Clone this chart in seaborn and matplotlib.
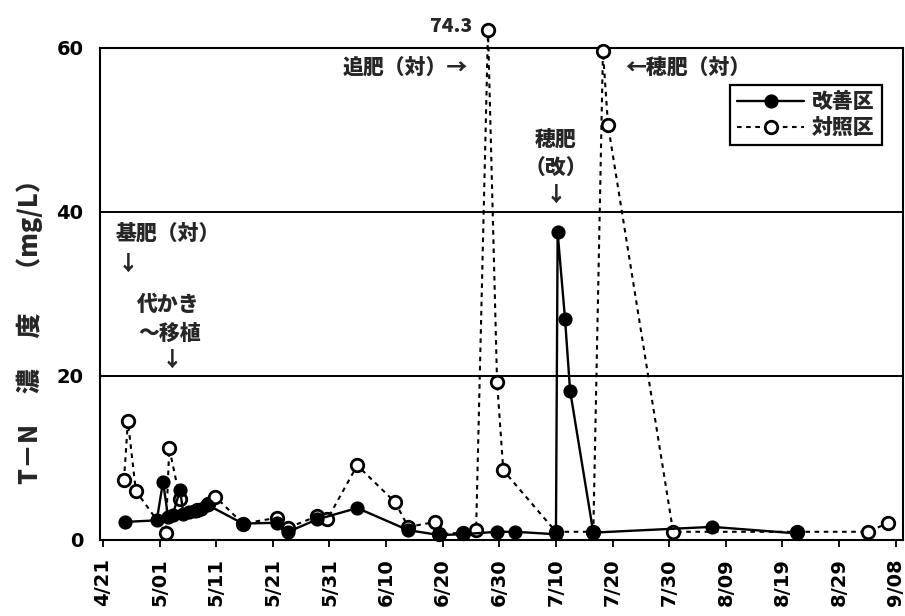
import numpy as np
import pandas as pd
import matplotlib
matplotlib.use("Agg")
import matplotlib.pyplot as plt
import seaborn as sns

# ---- data (days counted from 4/21) ----
tick_days = [0, 10, 20, 30, 40, 50, 60, 70, 80, 90, 100, 110, 120, 130, 140]
tick_labels = ["4/21", "5/01", "5/11", "5/21", "5/31", "6/10", "6/20", "6/30",
               "7/10", "7/20", "7/30", "8/09", "8/19", "8/29", "9/08"]

kaizen_day = [3.9, 9.5, 10.6, 11.5, 12.3, 13.6, 14.2, 15.2, 16.2, 17.3, 18.4,
              24.7, 30.7, 32.7, 37.8, 44.9, 53.9, 59.4, 63.6, 69.6, 72.8,
              80.0, 80.3, 81.6, 82.5, 86.6, 107.6, 122.6]
kaizen_tn = [2.2, 2.4, 7.1, 2.8, 3.0, 6.1, 3.2, 3.4, 3.5, 3.8, 4.3,
             2.0, 2.1, 1.0, 2.5, 3.9, 1.2, 0.6, 0.7, 1.0, 1.0,
             0.7, 37.5, 27.0, 18.2, 0.9, 1.6, 0.8]

taisho_day = [3.7, 4.4, 5.8, 11.1, 11.7, 13.6, 16.6, 18.5, 19.8, 24.7, 30.7,
              32.7, 37.8, 39.6, 44.9, 51.6, 53.9, 58.7, 59.4, 63.6, 65.9,
              68.0, 69.6, 70.7, 80.0, 86.6, 88.3, 89.2, 100.7, 122.6, 135.2,
              138.7]
taisho_tn = [7.3, 14.5, 6.0, 0.9, 11.2, 5.0, 3.6, 4.4, 5.3, 2.0, 2.7,
             1.5, 2.9, 2.5, 9.1, 4.6, 1.6, 2.2, 0.7, 0.9, 1.2,
             74.3, 19.3, 8.5, 1.0, 1.0, 59.6, 50.6, 1.0, 1.0, 1.0,
             2.1]

series_names = ["改善区", "対照区"]
AXIS_CAP = 62.2   # values above the axis top are drawn just above the frame

CJK = ["Noto Sans CJK JP", "DejaVu Sans"]
ANN = dict(fontsize=15, fontweight="black", family=CJK)

sns.set_theme(style="white")
plt.rcParams["font.family"] = ["DejaVu Sans", "Noto Sans CJK JP"]

fig = plt.figure(figsize=(9.05, 6.16), dpi=100)
ax = fig.add_axes([0.1105, 0.1234, 0.8873, 0.7987])

df_k = pd.DataFrame({"day": kaizen_day, "tn": kaizen_tn})
df_t = pd.DataFrame({"day": taisho_day,
                     "tn": np.minimum(np.array(taisho_tn), AXIS_CAP)})

sns.lineplot(data=df_k, x="day", y="tn", ax=ax, sort=False, estimator=None,
             color="black", lw=1.7, marker="o", markersize=9,
             markerfacecolor="black", markeredgecolor="black",
             markeredgewidth=1.2, label=series_names[0], zorder=4)
sns.lineplot(data=df_t, x="day", y="tn", ax=ax, sort=False, estimator=None,
             color="black", lw=1.5, linestyle=(0, (2.2, 2.2)), marker="o",
             markersize=9, markerfacecolor="white", markeredgecolor="black",
             markeredgewidth=2.0, label=series_names[1], zorder=3,
             clip_on=False)

ax.set_xlim(-0.53, 141.3)
ax.set_ylim(0, 60)
ax.set_yticks([0, 20, 40, 60])
ax.set_xticks(tick_days)
ax.set_xticklabels(tick_labels, rotation=90, fontsize=14, fontweight="bold")
ax.set_yticklabels(["0", "20", "40", "60"], fontsize=14, fontweight="bold")
ax.tick_params(axis="x", direction="out", length=5, width=1.3, pad=8,
               bottom=True, colors="black")
ax.tick_params(axis="y", length=0, pad=12, colors="black")
ax.set_xlabel("")
ax.set_ylabel("")
for s in ax.spines.values():
    s.set_color("black")
    s.set_linewidth(1.5)
for yv in [20, 40]:
    ax.axhline(yv, color="black", lw=1.4, zorder=1)

fig.text(0.033, 0.472, "T－N　 濃　 度　 （mg/L）", rotation=90, ha="center",
         va="center", fontsize=18, fontweight="black", family=CJK)

# annotations
ax.text(65.3, 62.6, f"{max(taisho_tn):.1f}", ha="right", va="center",
        fontsize=14, fontweight="black", family=CJK, clip_on=False)
ax.text(64.5, 57.6, "追肥（対）→", ha="right", va="center", **ANN)
ax.text(92.3, 57.6, "←穂肥（対）", ha="left", va="center", **ANN)
ax.text(80.0, 48.8, "穂肥", ha="center", va="center", **ANN)
ax.text(80.0, 45.3, "（改）", ha="center", va="center", **ANN)
ax.text(80.0, 42.0, "↓", ha="center", va="center", **ANN)
ax.text(2.3, 37.4, "基肥（対）", ha="left", va="center", **ANN)
ax.text(4.4, 33.6, "↓", ha="center", va="center", **ANN)
ax.text(11.5, 28.7, "代かき", ha="center", va="center", **ANN)
ax.text(11.8, 25.2, "～移植", ha="center", va="center", **ANN)
ax.text(12.2, 21.9, "↓", ha="center", va="center", **ANN)

leg = ax.legend(loc="upper right", bbox_to_anchor=(0.974, 0.925),
                borderaxespad=0.0, frameon=True, fancybox=False,
                edgecolor="black",
                prop={"family": CJK, "weight": "black", "size": 15},
                handlelength=3.2, borderpad=0.35, labelspacing=0.25,
                handletextpad=0.4, framealpha=1)
leg.get_frame().set_linewidth(1.6)

fig.savefig("out.png", dpi=100, facecolor="white")
